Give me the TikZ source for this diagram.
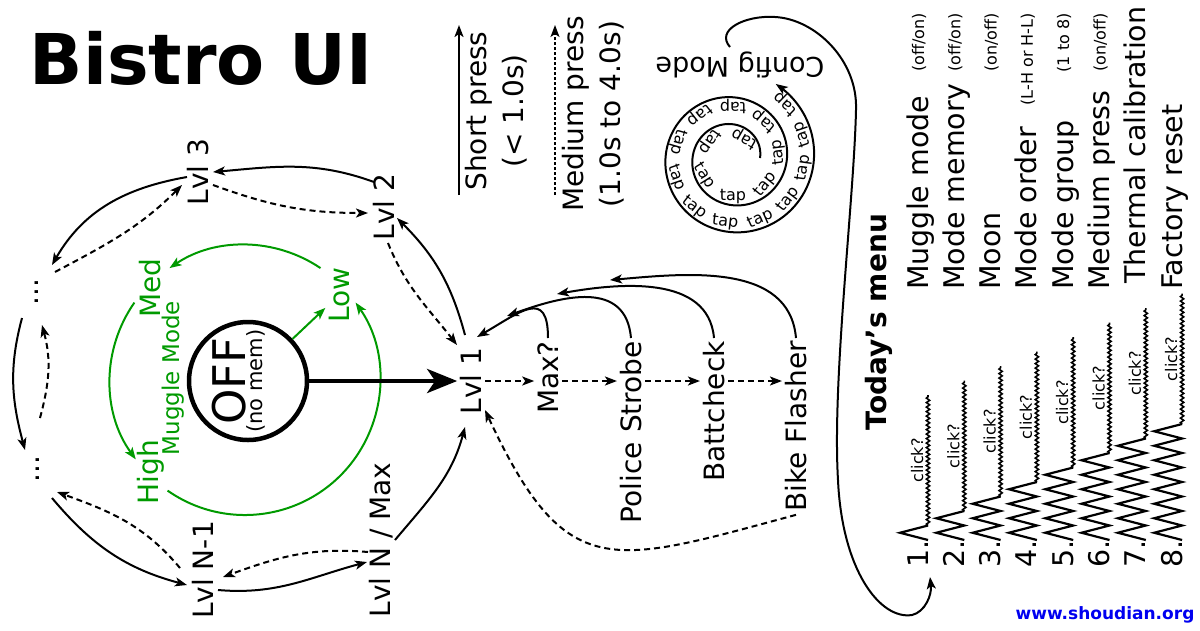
\documentclass[tikz,border=0pt]{standalone}
\usepackage{fontspec}
\setmainfont{DejaVu Sans}
\usepackage{tikz}
\usetikzlibrary{arrows.meta,calc,decorations.pathmorphing}
\definecolor{mgreen}{HTML}{009A00}
\definecolor{wmblue}{HTML}{0000F0}
\tikzset{
  lvl/.style={rotate=90,inner sep=3pt,font=\fontsize{28}{32}\selectfont},
  shortp/.style={->,line width=2pt},
  medp/.style={->,line width=2pt,dash pattern=on 6pt off 4pt},
  grn/.style={->,line width=2pt,draw=mgreen},
  menuitem/.style={rotate=90,inner sep=0pt,font=\fontsize{28.5}{32}\selectfont},
  menunote/.style={rotate=90,inner sep=0pt,anchor=base east,font=\fontsize{16}{18}\selectfont},
  clicklbl/.style={rotate=90,inner sep=0pt,anchor=base,font=\fontsize{16}{18}\selectfont},
  tapword/.style={inner sep=0pt,font=\fontsize{16}{18}\selectfont},
  zig/.style={line width=2.2pt,line join=miter},
  squig/.style={line width=1.6pt,decorate,decoration={snake,amplitude=1.6pt,segment length=4.5pt}},
}

\begin{document}
\begin{tikzpicture}[x=1pt,y=1pt,>={Stealth[length=12pt,width=9pt,inset=3pt]}]
  \useasboundingbox (0,0) rectangle (1200,-630);
  \node[font=\fontsize{70}{84}\selectfont\bfseries] (title) at (201,-58) {Bistro UI};

  % off state and muggle ring
  \node[circle,draw,line width=4.5pt,minimum size=118pt,inner sep=0pt] (offc) at (248,-381) {};
  \node[rotate=90,inner sep=0pt,font=\fontsize{45}{45}\selectfont] (offtxt) at (229,-381) {OFF};
  \node[rotate=90,inner sep=0pt,font=\fontsize{21}{21}\selectfont] (nomem) at (256,-381) {(no mem)};
  \coordinate (ring) at (245,-380);
  \node[lvl,text=mgreen] (low) at (339,-295) {Low};
  \node[lvl,text=mgreen] (med) at (150,-288) {Med};
  \node[lvl,text=mgreen] (high) at (151,-472) {High};
  \node[lvl,text=mgreen,font=\fontsize{23}{26}\selectfont] (muggle) at (173,-378) {Muggle Mode};
  \draw[grn] ([shift={(56:135)}]ring) arc[start angle=56,end angle=124,radius=135];
  \draw[grn] ([shift={(145:135)}]ring) arc[start angle=145,end angle=216,radius=135];
  \draw[grn] ([shift={(235:135)}]ring) arc[start angle=235,end angle=395,radius=135];
  \draw[grn] (offc) -- (low);

  % levels
  \node[lvl] (l1) at (471,-381) {Lvl 1};
  \node[lvl] (l2) at (384,-207) {Lvl 2};
  \node[lvl] (l3) at (198,-172) {Lvl 3};
  \node[lvl] (dtop) at (37,-292) {...};
  \node[lvl] (dbot) at (38,-469) {...};
  \node[lvl] (ln1) at (203,-570) {Lvl N-1};
  \node[lvl] (ln) at (381,-540) {Lvl N / Max};
  \draw[line width=4.5pt,-{Stealth[length=30pt,width=24pt,inset=8pt]}] (offc) -- (l1);

  \draw[shortp] ([shift={(-6,46)}]l1.center) to[out=105,in=-45] ([shift={(13,-11)}]l2.center);
  \draw[medp] ([shift={(4,-36)}]l2.center) to[out=-68,in=128] ([shift={(-14,36)}]l1.center);
  \draw[shortp] ([shift={(-10,25)}]l2.center) to[out=160,in=5] ([shift={(15,0)}]l3.center);
  \draw[medp] ([shift={(15,-13)}]l3.center) to[out=-20,in=180] ([shift={(-16,-6)}]l2.center);
  \draw[shortp] ([shift={(-11,-5)}]l3.center) to[out=190,in=60] ([shift={(15,27)}]dtop.center);
  \draw[medp] ([shift={(18,20)}]dtop.center) to[out=28,in=-135] ([shift={(-16,-13)}]l3.center);
  \draw[shortp] ([shift={(-15,-26)}]dtop.center) to[out=255,in=105] ([shift={(-13,19)}]dbot.center);
  \draw[medp] ([shift={(2,51)}]dbot.center) to[out=75,in=-75] ([shift={(5,-33)}]dtop.center);
  \draw[shortp] ([shift={(14,-29)}]dbot.center) to[out=-50,in=165] ([shift={(-16,-15)}]ln1.center);
  \draw[medp] ([shift={(-23,2)}]ln1.center) to[out=130,in=-20] ([shift={(19,-23)}]dbot.center);
  \draw[shortp] ([shift={(15,-20)}]ln1.center) to[out=-5,in=195] ([shift={(-14,-22)}]ln.center);
  \draw[medp] ([shift={(-13,-12)}]ln.center) to[out=175,in=20] ([shift={(20,-7)}]ln1.center);
  \draw[shortp] ([shift={(14,0)}]ln.center) to[out=50,in=-105] ([shift={(-6,-46)}]l1.center);

  % special modes
  \node[lvl,anchor=east] (maxq) at (548,-338) {Max?};
  \node[lvl,anchor=east] (police) at (631,-338) {Police Strobe};
  \node[lvl,anchor=east] (batt) at (714,-338) {Battcheck};
  \node[lvl,anchor=east] (bike) at (796,-338) {Bike Flasher};
  \foreach \a/\b in {l1/maxq,maxq/police,police/batt,batt/bike}
    \draw[medp] (\a.south |- l1.south) -- (\b.north |- l1.south);
  \coordinate (j1) at (507,-316);
  \coordinate (j2) at (557,-294);
  \coordinate (j3) at (610,-280);
  \draw[shortp] (maxq.east) to[out=90,in=30,looseness=1.8] ([shift={(6,44)}]l1.center);
  \draw[shortp] (police.east) to[out=95,in=20,looseness=1.2] (j1);
  \draw[shortp] (batt.east) to[out=95,in=10] (j2);
  \draw[shortp] (bike.east) to[out=95,in=5] (j3);
  \draw[medp] (bike.west) to[out=195,in=-65,looseness=1.5] ([shift={(14,-29)}]l1.center);

  % legend
  \node[lvl,align=center,font=\fontsize{28}{37}\selectfont] (shortlbl) at (496,-111) {Short press\\(< 1.0s)};
  \node[lvl,align=center,font=\fontsize{28}{37}\selectfont] (medlbl) at (593,-114) {Medium press\\(1.0s to 4.0s)};
  \draw[shortp] (459,-195) -- (459,-25);
  \draw[->,line width=1.5pt,dash pattern=on 3pt off 2pt] (555,-195) -- (555,-25);

  % tap spiral
  \draw[->,line width=2pt]
    plot[domain=0:780,samples=160,smooth,variable=\t] ({733+(27+0.075*\t)*cos(\t)},{-158+(27+0.075*\t)*sin(\t)});
  \foreach \t [count=\i] in {60,145,212,270,321,367,410,450,488,524,559,592,623,654,683,712,739,766}
    \node[tapword,rotate=\t+90] (tap\i) at ({733+(18+0.075*\t)*cos(\t)},{-158+(18+0.075*\t)*sin(\t)}) {tap};
  \node[rotate=180,inner sep=2pt,font=\fontsize{27}{30}\selectfont] (cfg) at (740,-65) {Config Mode};

  % today's menu
  \node[rotate=90,font=\fontsize{28}{32}\selectfont\bfseries] (menuttl) at (879,-322) {Today's menu};
  \foreach \k/\ys/\lab in {1/290/Muggle mode,2/290/Mode memory,3/290/Moon,4/290/Mode order,
      5/290/Mode group,6/290/Medium press,7/284/Thermal calibration,8/290/Factory reset} {
    \pgfmathsetmacro{\xb}{928+36.3*(\k-1)}
    \node[menuitem,anchor=base west] (item\k) at (\xb,-\ys) {\lab};
    \node[menuitem,anchor=base west] (num\k) at (\xb,-568) {\k.};
    \draw[zig] (\xb,-540) \foreach \j in {1,...,\k} { -- ++(-28,7.25) -- ++(28,7.25) } coordinate (zend\k);
    \draw[squig] (zend\k) -- ++(0,130.5);
    \node[clicklbl] (click\k) at ([shift={(-5,65)}]zend\k) {click?};
  }
  \foreach \k/\nt in {1/{(off/on)},2/{(off/on)},3/{(on/off)},4/{(L-H or H-L)},5/{(1 to 8)},6/{(on/off)}} {
    \pgfmathsetmacro{\xb}{928+36.3*(\k-1)}
    \node[menunote] (note\k) at (\xb-4,-13) {\nt};
  }
  \draw[shortp] ([shift={(-10,18)}]cfg.center) .. controls (715,-30) and (745,-15) .. (775,-17)
    .. controls (815,-19) and (858,-60) .. (856,-110)
    .. controls (854,-200) and (832,-380) .. (838,-480)
    .. controls (842,-570) and (880,-620) .. (912,-615)
    .. controls (925,-612) and (932,-595) .. ([shift={(2,-9)}]num1.base west);

  \node[font=\fontsize{17}{17}\selectfont\bfseries,text=wmblue] (wm) at (1105,-615) {www.shoudian.org};
\end{tikzpicture}
\end{document}
